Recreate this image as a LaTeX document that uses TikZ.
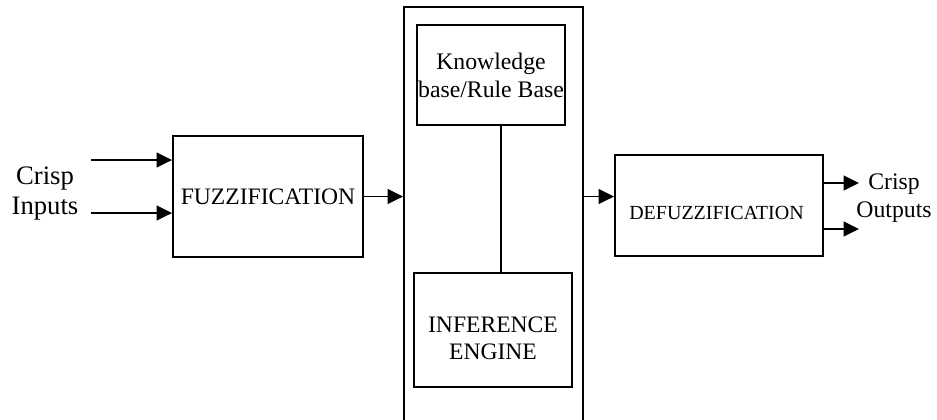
\documentclass[tikz,border=0pt]{standalone}
\usepackage{fontspec}
\setmainfont{Liberation Serif}
\usetikzlibrary{arrows.meta}

\begin{document}
\begin{tikzpicture}[x=0.75pt,y=-0.75pt,
  blockbox/.style={draw,line width=1.4pt,inner sep=0pt},
  arr/.style={line width=1.4pt,-{Triangle[length=11.5pt,width=11pt]}}]
  \useasboundingbox (0,0) rectangle (937,419);
  % the frame round the rule base runs off the bottom edge
  \node (core) at (493.5,223.5) [blockbox,minimum width=134.25pt,minimum height=324.75pt] {};
  \node (fuzz) at (268,196.5) [blockbox,minimum width=142.5pt,minimum height=90.75pt,font=\fontsize{17.7}{20}\selectfont] {FUZZIFICATION};
  \node (kb) at (491,75) [blockbox,minimum width=111pt,minimum height=75pt,align=center,font=\fontsize{17.8}{21}\selectfont] {Knowledge\\base/Rule Base};
  \node (ie) at (493,330) [blockbox,minimum width=118.5pt,minimum height=85.5pt] {};
  \node (ietext) at (493,338.5) [align=center,font=\fontsize{17.7}{20.25}\selectfont] {INFERENCE\\ENGINE};
  \node (defuzz) at (719,205.5) [blockbox,minimum width=156pt,minimum height=75.75pt] {};
  \node (defuzztext) at (716.5,212.5) [font=\fontsize{15}{18}\selectfont] {DEFUZZIFICATION};
  \node (crispin) at (45,194) [align=center,font=\fontsize{20}{22.5}\selectfont] {Crisp\\Inputs};
  \node (crispout) at (894,198) [align=center,font=\fontsize{17.8}{21}\selectfont] {Crisp\\Outputs};
  \coordinate (in1) at (91,160);
  \coordinate (in2) at (91,213);
  \coordinate (out1) at (859,183);
  \coordinate (out2) at (859,229);
  \draw[arr] (in1) -- (in1 -| fuzz.west);
  \draw[arr] (in2) -- (in2 -| fuzz.west);
  \draw[arr] (fuzz.east) -- (fuzz.east -| core.west);
  \draw[arr] (fuzz.east -| core.east) -- (fuzz.east -| defuzz.west);
  \draw[arr] (out1 -| defuzz.east) -- (out1);
  \draw[arr] (out2 -| defuzz.east) -- (out2);
  \draw[line width=1.4pt] ([xshift=7.5pt]kb.south) -- ([xshift=6pt]ie.north);
\end{tikzpicture}
\end{document}
